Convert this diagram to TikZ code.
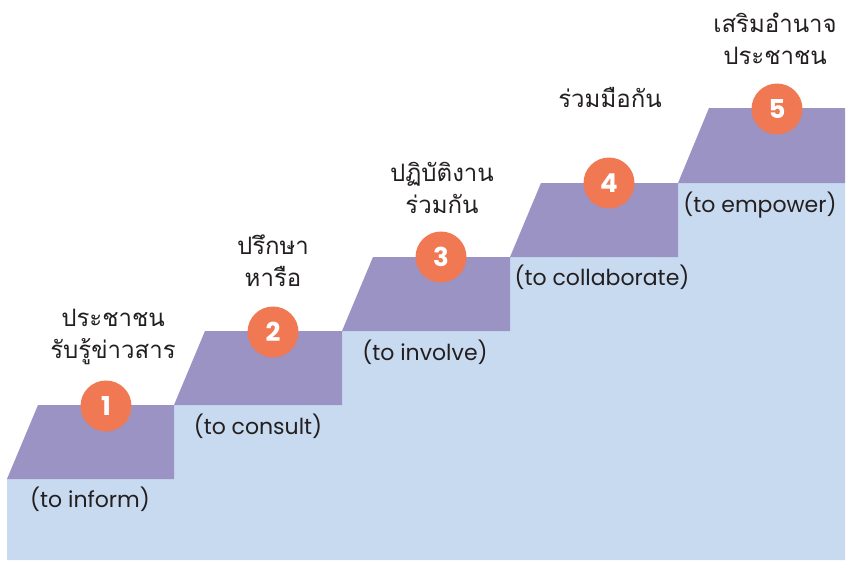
\documentclass[tikz,border=0pt]{standalone}
\usepackage{fontspec}
\setmainfont{Poppins}
\newfontfamily\numfont{Poppins Bold}
\newfontfamily\thaifont[Script=Thai]{Loma}
\definecolor{stepblue}{HTML}{C8DAF0}
\definecolor{steppurple}{HTML}{9A93C4}
\definecolor{numorange}{HTML}{F07853}
\definecolor{txt}{HTML}{231F20}
\begin{document}
\begin{tikzpicture}[x=1pt,y=-1pt,
  topface/.style={fill=steppurple,draw=none},
  numcircle/.style={circle,fill=numorange,minimum size=51pt,inner sep=0pt,text=white,font=\numfont\fontsize{26}{26}\selectfont},
  thailabel/.style={align=center,text=txt,font=\thaifont\fontsize{24}{32}\selectfont},
  englabel/.style={text=txt,font=\fontsize{22}{26}\selectfont}]
\useasboundingbox (0,0) rectangle (848,560);
\fill[white] (0,0) rectangle (848,560);
% blue staircase body
\fill[stepblue] (7,560) -- (7,479) -- (174,479) -- (174,405) -- (342,405) -- (342,331)
  -- (510,331) -- (510,257) -- (678,257) -- (678,183) -- (845,183) -- (845,560) -- cycle;
% purple tops
\fill[topface] (7,479) -- (38,405) -- (174,405) -- (174,479) -- cycle;
\fill[topface] (174,405) -- (205,331) -- (342,331) -- (342,405) -- cycle;
\fill[topface] (342,331) -- (373,257) -- (510,257) -- (510,331) -- cycle;
\fill[topface] (510,257) -- (541,183) -- (678,183) -- (678,257) -- cycle;
\fill[topface] (678,183) -- (709,108) -- (845,108) -- (845,183) -- cycle;
% numbers
\node[numcircle] (n1) at (106,406) {1};
\node[numcircle] (n2) at (273,332) {2};
\node[numcircle] (n3) at (441,257) {3};
\node[numcircle] (n4) at (609,183) {4};
\node[numcircle] (n5) at (777,109) {5};
% thai labels
\node[thailabel] (t1) at (113,337) {ประชาชน\\รับรู้ข่าวสาร};
\node[thailabel] (t2) at (273,261) {ปรึกษา\\หารือ};
\node[thailabel] (t3) at (442,188) {ปฏิบัติงาน\\ร่วมกัน};
\node[thailabel] (t4) at (610,97) {ร่วมมือกัน};
\node[thailabel] (t5) at (775,39) {เสริมอำนาจ\\ประชาชน};
% english labels
\node[englabel] (e1) at (90,499) {(to inform)};
\node[englabel] (e2) at (258,426) {(to consult)};
\node[englabel] (e3) at (425,352) {(to involve)};
\node[englabel] (e4) at (602,277) {(to collaborate)};
\node[englabel] (e5) at (760,205) {(to empower)};
\end{tikzpicture}
\end{document}
